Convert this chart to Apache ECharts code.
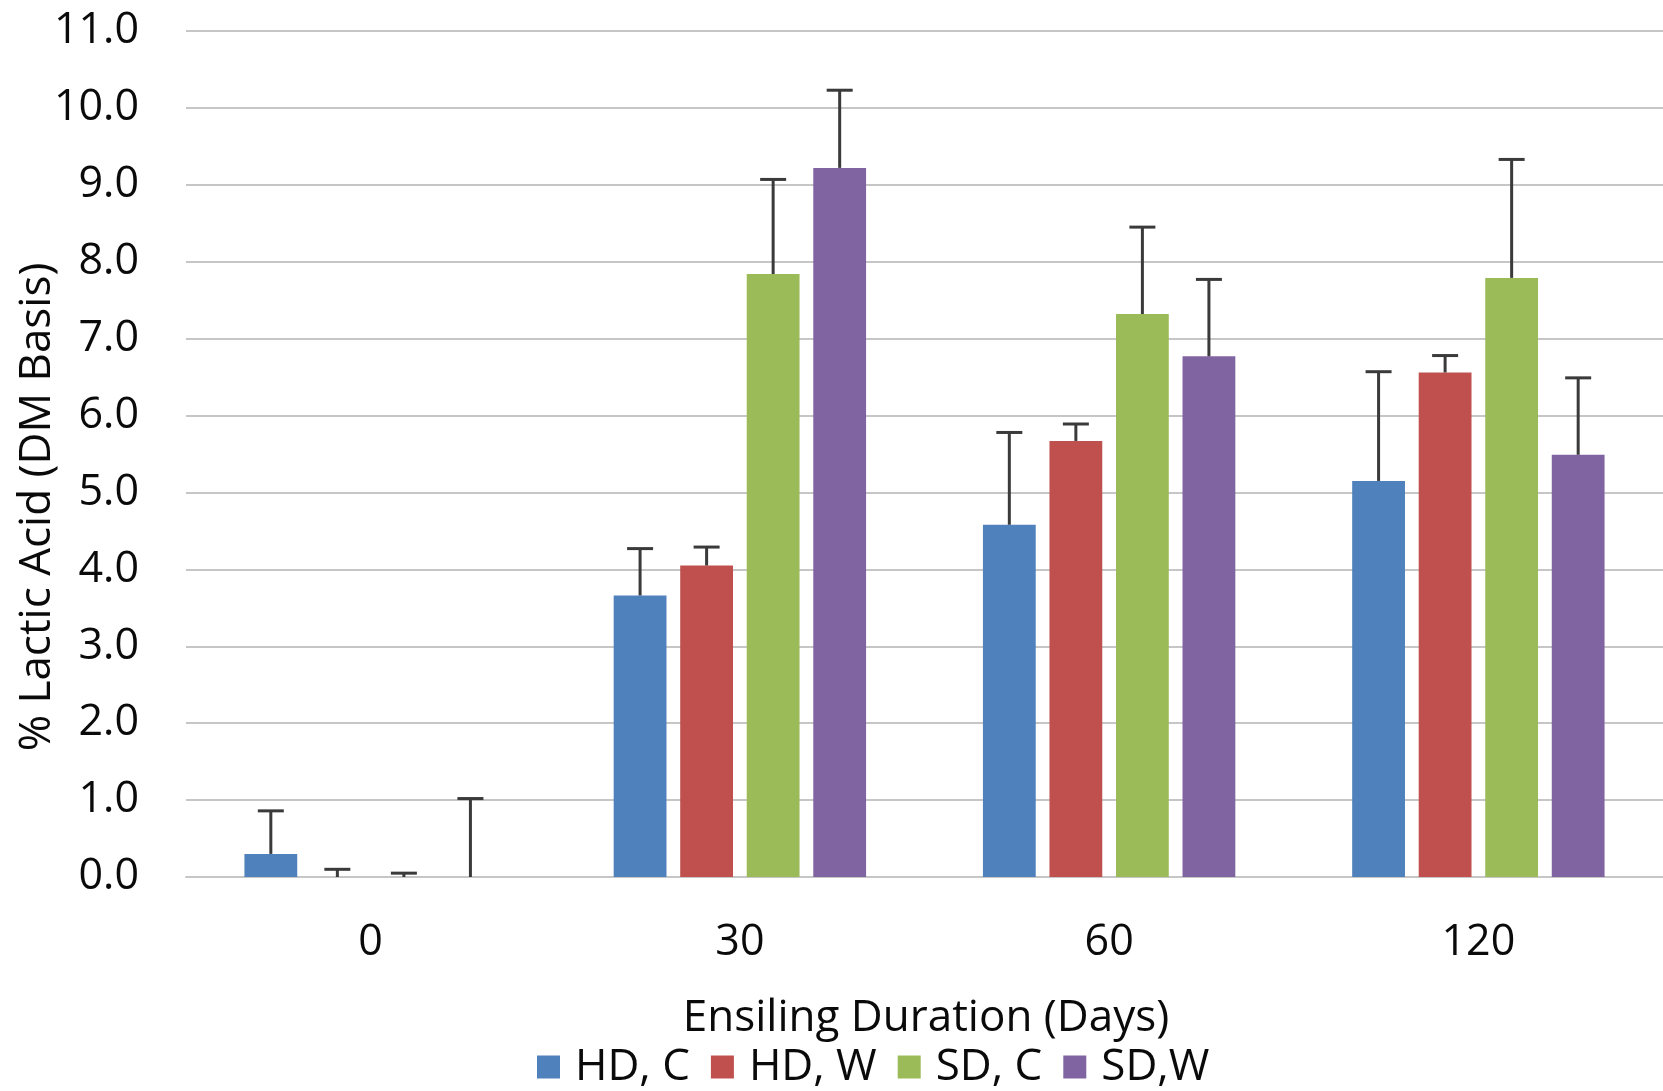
<!DOCTYPE html>
<html>
<head>
<meta charset="utf-8">
<script src="https://cdn.jsdelivr.net/npm/echarts@6/dist/echarts.min.js"></script>
<style>
  html, body { margin: 0; padding: 0; background: #fff; }
  #chart { width: 1663px; height: 1091px; }
</style>
</head>
<body>
<div id="chart"></div>
<script>
// Ensiling duration categories (days)
const categories = ['0', '30', '60', '120'];
const seriesNames = ['HD, C', 'HD, W', 'SD, C', 'SD,W'];

// Mean lactic acid (% DM) per treatment
const hdC = [0.30, 3.66, 4.58, 5.15];
const hdW = [0.00, 4.05, 5.67, 6.56];
const sdC = [0.00, 7.84, 7.32, 7.79];
const sdW = [0.00, 9.22, 6.77, 5.49];

// Upper error (standard deviation) per treatment
const hdCErr = [0.56, 0.61, 1.20, 1.42];
const hdWErr = [0.10, 0.24, 0.22, 0.22];
const sdCErr = [0.05, 1.23, 1.13, 1.54];
const sdWErr = [1.02, 1.01, 1.00, 1.00];

const yTicks = [0, 1, 2, 3, 4, 5, 6, 7, 8, 9, 10, 11];

const means = [hdC, hdW, sdC, sdW];
const errs = [hdCErr, hdWErr, sdCErr, sdWErr];
const colors = ['#4F81BD', '#C0504D', '#9BBB59', '#8064A2'];

const FONT = '"Open Sans", "Noto Sans", sans-serif';
const TEXT = '#0a0a0a';
const BAR_RATIO = 0.143;   // bar width as share of the category band
const GAP_RATIO = 0.26;    // gap between bars as share of bar width

const chart = echarts.init(document.getElementById('chart'), null, { renderer: 'canvas' });

const barSeries = means.map((vals, i) => ({
  name: seriesNames[i],
  type: 'bar',
  data: vals,
  barWidth: (BAR_RATIO * 100) + '%',
  barGap: (GAP_RATIO * 100) + '%',
  itemStyle: { color: colors[i] },
  emphasis: { disabled: true },
  z: 2
}));

const errorSeries = means.map((vals, i) => ({
  name: seriesNames[i] + ' err',
  type: 'custom',
  data: vals.map((v, k) => [k, v, v + errs[i][k]]),
  encode: { x: 0, y: [1, 2] },
  silent: true,
  z: 3,
  renderItem: function (params, api) {
    const k = api.value(0);
    const band = api.size([1, 0])[0];
    const w = band * BAR_RATIO;
    const step = w * (1 + GAP_RATIO);
    const base = api.coord([k, api.value(1)]);
    const top = api.coord([k, api.value(2)]);
    const x = base[0] + (i - 1.5) * step;
    const cap = 13;
    const style = { stroke: '#3a3a3a', lineWidth: 3 };
    return {
      type: 'group',
      children: [
        { type: 'line', shape: { x1: x, y1: base[1], x2: x, y2: top[1] }, style: style },
        { type: 'line', shape: { x1: x - cap, y1: top[1], x2: x + cap, y2: top[1] }, style: style }
      ]
    };
  }
}));

const option = {
  backgroundColor: '#ffffff',
  animation: false,
  textStyle: { fontFamily: FONT },
  grid: { left: 186, top: 31, width: 1482, height: 846, containLabel: false },
  xAxis: {
    type: 'category',
    data: categories,
    axisLine: { show: true, lineStyle: { color: '#c6c6c6', width: 2 } },
    axisTick: { show: false },
    axisLabel: { color: TEXT, fontSize: 43, fontFamily: FONT, margin: 44 }
  },
  yAxis: {
    type: 'value',
    min: yTicks[0],
    max: yTicks[yTicks.length - 1],
    interval: 1,
    axisLine: { show: false },
    axisTick: { show: false },
    splitLine: { lineStyle: { color: '#c6c6c6', width: 2 } },
    axisLabel: {
      color: TEXT, fontSize: 43, fontFamily: FONT, margin: 47,
      formatter: v => v.toFixed(1)
    }
  },
  legend: {
    data: seriesNames,
    left: 532,
    top: 1040,
    icon: 'rect',
    itemWidth: 23,
    itemHeight: 23,
    itemGap: 21,
    textStyle: { color: TEXT, fontSize: 44, fontFamily: FONT, padding: [0, 0, 0, 10] },
    selectedMode: false
  },
  graphic: [
    {
      type: 'text',
      x: 926, y: 1018,
      style: {
        text: 'Ensiling Duration (Days)',
        fill: TEXT, font: '44px ' + FONT,
        textAlign: 'center', textVerticalAlign: 'middle'
      }
    },
    {
      type: 'text',
      x: 37, y: 507,
      rotation: Math.PI / 2,
      style: {
        text: '% Lactic Acid (DM Basis)',
        fill: TEXT, font: '44px ' + FONT,
        textAlign: 'center', textVerticalAlign: 'middle'
      }
    }
  ],
  series: barSeries.concat(errorSeries)
};

chart.setOption(option);
</script>
</body>
</html>
